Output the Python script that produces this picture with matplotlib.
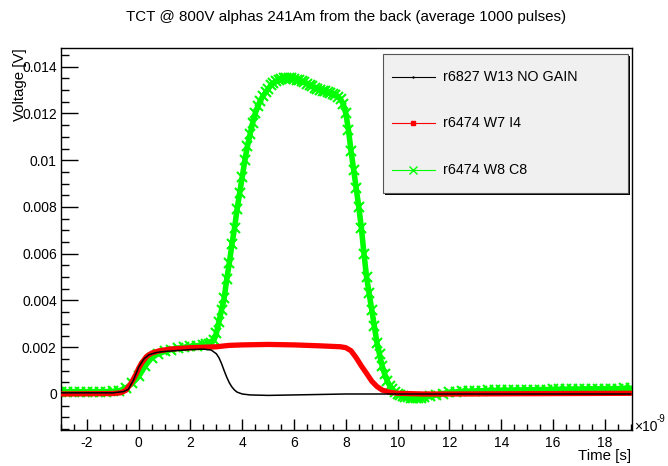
import numpy as np
import matplotlib.pyplot as plt
from matplotlib.lines import Line2D
from matplotlib.patches import Rectangle

plt.rcParams['font.family'] = ['Liberation Sans', 'DejaVu Sans']

# 数据: 时间 (ns), 电压 (mV)
t_green = [-3.0, -2.75, -2.5, -2.25, -2.0, -1.75, -1.5, -1.25, -1.0, -0.75, -0.5, -0.25,
           0.0, 0.25, 0.5, 0.75, 1.0, 1.25, 1.5, 1.75, 2.0, 2.25, 2.5,
           2.6, 2.7, 2.8, 2.9, 3.0, 3.1, 3.2, 3.3, 3.4, 3.5, 3.6, 3.7, 3.8, 3.9,
           4.0, 4.1, 4.2, 4.3, 4.4, 4.5, 4.6, 4.7, 4.8, 4.9, 5.0, 5.1, 5.2, 5.3, 5.4,
           5.5, 5.6, 5.7, 5.8, 5.9, 6.0, 6.1, 6.2, 6.3, 6.4, 6.5, 6.6, 6.7, 6.8, 6.9,
           7.0, 7.1, 7.2, 7.3, 7.4, 7.5, 7.6, 7.7, 7.8, 7.9, 8.0, 8.1, 8.2, 8.3, 8.4,
           8.5, 8.6, 8.7, 8.8, 8.9, 9.0, 9.1, 9.2, 9.3, 9.4, 9.5, 9.6, 9.7, 9.8, 9.9,
           10.0, 10.1, 10.2, 10.3, 10.4, 10.5, 10.6, 10.7, 10.8, 10.9, 11.0,
           11.25, 11.5, 11.75, 12.0, 12.25, 12.5, 12.75, 13.0, 13.25, 13.5, 13.75,
           14.0, 14.25, 14.5, 14.75, 15.0, 15.25, 15.5, 15.75, 16.0, 16.25, 16.5,
           16.75, 17.0, 17.25, 17.5, 17.75, 18.0, 18.25, 18.5, 18.75, 19.0]
v_green = [0.10, 0.10, 0.10, 0.10, 0.10, 0.10, 0.10, 0.10, 0.11, 0.14, 0.25, 0.45,
           0.75, 1.2, 1.55, 1.72, 1.82, 1.9, 1.96, 2.0, 2.04, 2.07, 2.1,
           2.12, 2.14, 2.18, 2.3, 2.6, 3.1, 3.6, 4.1, 4.9, 5.6, 6.4, 7.1, 7.9, 8.6,
           9.3, 10.0, 10.6, 11.1, 11.6, 12.0, 12.3, 12.55, 12.75, 12.9, 13.05, 13.2, 13.3, 13.38, 13.43,
           13.47, 13.5, 13.52, 13.52, 13.5, 13.48, 13.45, 13.42, 13.38, 13.33, 13.28, 13.22, 13.16, 13.1, 13.05,
           13.0, 12.97, 12.94, 12.9, 12.87, 12.84, 12.8, 12.72, 12.6, 12.4, 12.0, 11.3, 10.4, 9.6, 8.8,
           8.0, 7.1, 6.0, 5.0, 4.3, 3.6, 2.9, 2.2, 1.7, 1.2, 0.85, 0.55, 0.35, 0.2, 0.08,
           0.0, -0.05, -0.09, -0.12, -0.14, -0.16, -0.17, -0.17, -0.17, -0.16, -0.14,
           -0.1, -0.04, 0.02, 0.07, 0.09, 0.11, 0.12, 0.13, 0.14, 0.15, 0.15,
           0.16, 0.16, 0.17, 0.17, 0.18, 0.18, 0.19, 0.19, 0.2, 0.2, 0.2,
           0.21, 0.21, 0.22, 0.22, 0.22, 0.23, 0.23, 0.23, 0.24, 0.24]

t_red = [-3.0, -1.0, -0.7, -0.5, -0.3, -0.1, 0.0, 0.1, 0.3, 0.5, 0.8, 1.2, 2.0, 3.0, 3.5,
         4.0, 5.0, 6.0, 7.0, 7.8, 8.0, 8.2, 8.4, 8.6, 8.8, 9.0, 9.2, 9.4, 9.7, 10.0,
         11.0, 12.0, 19.0]
v_red = [0.0, 0.02, 0.05, 0.15, 0.45, 0.85, 1.1, 1.3, 1.6, 1.75, 1.85, 1.92, 1.98, 2.02, 2.08,
         2.1, 2.12, 2.1, 2.06, 2.02, 1.98, 1.85, 1.55, 1.2, 0.88, 0.55, 0.32, 0.17, 0.07, 0.03,
         0.0, 0.0, 0.03]

t_black = [-3.0, -1.0, -0.6, -0.4, -0.2, 0.0, 0.2, 0.4, 0.7, 1.0, 1.5, 2.0, 2.5, 2.8, 3.0,
           3.1, 3.2, 3.3, 3.4, 3.5, 3.6, 3.7, 3.8, 4.0, 4.3, 5.0, 6.0, 7.0, 8.0, 10.0,
           12.0, 19.0]
v_black = [0.05, 0.05, 0.1, 0.2, 0.6, 1.15, 1.5, 1.68, 1.78, 1.82, 1.86, 1.9, 1.92, 1.88, 1.72,
           1.55, 1.3, 1.0, 0.72, 0.48, 0.3, 0.17, 0.08, 0.0, -0.04, -0.06, -0.04, -0.02, 0.0, 0.0,
           0.0, 0.0]

labels = ['r6827 W13 NO GAIN', 'r6474 W7 I4', 'r6474 W8 C8']
title = 'TCT @ 800V alphas 241Am from the back (average 1000 pulses)'
x_ticks = [-2, 0, 2, 4, 6, 8, 10, 12, 14, 16, 18]
y_ticks = [0, 0.002, 0.004, 0.006, 0.008, 0.010, 0.012, 0.014]
y_tick_labels = ['0', '0.002', '0.004', '0.006', '0.008', '0.01', '0.012', '0.014']

W, H = 668, 466
fig = plt.figure(figsize=(W / 100, H / 100), dpi=100)
ax = fig.add_axes([61 / W, 1 - 430 / H, (632 - 61) / W, (430 - 48) / H])

mv = 1e-3
ax.plot(t_green, np.array(v_green) * mv, '-', color='#00ff00', lw=4,
        marker='x', ms=7.5, mew=1.5, zorder=2)
ax.plot(t_red, np.array(v_red) * mv, '-', color='#ff0000', lw=3.8,
        solid_capstyle='round', zorder=3)
ax.plot(t_black, np.array(v_black) * mv, '-', color='black', lw=1.1, zorder=4)

ax.set_xlim(-3, 19.05)
ax.set_ylim(-0.00154, 0.0148)
ax.set_xticks(x_ticks)
ax.set_xticklabels([str(v) for v in x_ticks])
ax.set_xticks(np.arange(-3, 19.1, 0.5), minor=True)
ax.set_yticks(y_ticks)
ax.set_yticklabels(y_tick_labels)
ax.set_yticks(np.arange(-0.0015, 0.0148, 0.0005), minor=True)

ax.tick_params(axis='both', which='both', direction='in', labelsize=10, width=1)
ax.tick_params(axis='x', which='major', length=8, pad=4)
ax.tick_params(axis='x', which='minor', length=4)
ax.tick_params(axis='y', which='major', length=12, pad=3)
ax.tick_params(axis='y', which='minor', length=6)
for s in ax.spines.values():
    s.set_linewidth(1)

fig.text(346 / W, 1 - 17 / H, title, ha='center', va='center', fontsize=10.9)
fig.text(20 / W, 1 - 48 / H, 'Voltage [V]', rotation=90, ha='center', va='top', fontsize=10.8)
fig.text(631 / W, 1 - 456 / H, 'Time [s]', ha='right', va='center', fontsize=10.8)
fig.text(634 / W, 1 - 431 / H, '×10', ha='left', va='baseline', fontsize=10)
fig.text(657 / W, 1 - 422 / H, '-9', ha='left', va='baseline', fontsize=7)

# 图例框 (带阴影)
lx0, lx1, ly0, ly1 = 383, 628, 54, 193
fig.add_artist(Rectangle(((lx0 + 2) / W, 1 - (ly1 + 2) / H), (lx1 - lx0) / W, (ly1 - ly0) / H,
                         transform=fig.transFigure, facecolor='black', edgecolor='none', zorder=5))
fig.add_artist(Rectangle((lx0 / W, 1 - ly1 / H), (lx1 - lx0) / W, (ly1 - ly0) / H,
                         transform=fig.transFigure, facecolor='#f0f0f0', edgecolor='#555555',
                         lw=0.8, zorder=6))
line_colors = ['black', '#ff0000', '#00ff00']
mark_styles = [dict(marker='.', ms=1.5), dict(marker='s', ms=2.2), dict(marker='x', ms=6, mew=1)]
for i, lab in enumerate(labels):
    yy = 1 - [77, 123, 170][i] / H
    fig.add_artist(Line2D([392 / W, 435 / W], [yy, yy], transform=fig.transFigure,
                          color=line_colors[i], lw=0.8, zorder=7))
    fig.add_artist(Line2D([413.5 / W], [yy], transform=fig.transFigure, zorder=7,
                          linestyle='none', color=line_colors[i], **mark_styles[i]))
    fig.text(443 / W, yy, lab, ha='left', va='center', fontsize=10.3, zorder=8)

fig.savefig('out.png', dpi=100)
